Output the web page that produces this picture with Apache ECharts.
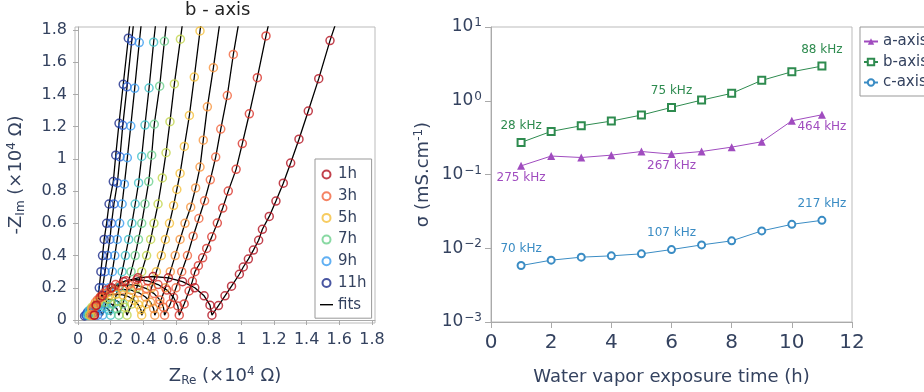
<!DOCTYPE html>
<html>
<head>
<meta charset="utf-8">
<script src="https://cdn.jsdelivr.net/npm/echarts@6/dist/echarts.min.js"></script>
<style>
html, body { margin: 0; padding: 0; background: #fff; }
#chart { width: 924px; height: 392px; }
</style>
</head>
<body>
<div id="chart"></div>
<script>
// Nyquist data, b-axis, one list of [Z_Re, -Z_Im] (x10^4 ohm) per exposure hour
var hour1 = [[0.100,0.03],[0.112,0.092],[0.148,0.15],[0.205,0.20],[0.280,0.238],[0.367,0.262],[0.460,0.27],[0.553,0.262],[0.640,0.238],[0.715,0.20],[0.772,0.15],[0.808,0.092],[0.820,0.03],
    [0.86,0.09],[0.90,0.15],[0.94,0.21],[0.988,0.284],[1.012,0.329],[1.043,0.378],[1.074,0.434],[1.106,0.495],[1.129,0.563],[1.171,0.643],[1.212,0.738],[1.257,0.849],[1.302,0.974],[1.353,1.122],[1.41,1.297],[1.474,1.498],[1.543,1.734],[1.614,1.95]];
var hour2 = [[0.100,0.03],[0.109,0.087],[0.135,0.14],[0.176,0.186],[0.23,0.22],[0.293,0.243],[0.36,0.25],[0.427,0.243],[0.49,0.22],[0.544,0.186],[0.585,0.14],[0.611,0.087],[0.62,0.03],
    [0.65,0.1],[0.68,0.18],[0.70,0.24],[0.716,0.30],[0.737,0.337],[0.763,0.386],[0.788,0.444],[0.819,0.516],[0.853,0.602],[0.886,0.695],[0.92,0.80],[0.968,0.935],[1.006,1.095],[1.049,1.28],[1.098,1.504],[1.151,1.763],[1.192,1.95]];
var hour3 = [[0.09,0.03],[0.097,0.079],[0.119,0.125],[0.154,0.164],[0.20,0.195],[0.253,0.214],[0.31,0.22],[0.367,0.214],[0.42,0.195],[0.466,0.164],[0.501,0.125],[0.523,0.079],[0.53,0.03],
    [0.565,0.1],[0.60,0.2],[0.635,0.3],[0.67,0.4],[0.705,0.52],[0.74,0.63],[0.775,0.74],[0.81,0.87],[0.843,1.011],[0.874,1.185],[0.914,1.393],[0.951,1.648],[1.002,1.95]];
var hour4 = [[0.08,0.03],[0.087,0.071],[0.106,0.11],[0.137,0.143],[0.178,0.169],[0.225,0.185],[0.275,0.19],[0.325,0.185],[0.373,0.169],[0.413,0.143],[0.444,0.11],[0.463,0.071],[0.47,0.03],
    [0.50,0.1],[0.535,0.2],[0.565,0.3],[0.595,0.4],[0.625,0.5],[0.655,0.6],[0.69,0.7],[0.72,0.82],[0.747,0.949],[0.767,1.116],[0.792,1.323],[0.829,1.566],[0.883,1.95]];
var hour5 = [[0.08,0.03],[0.085,0.064],[0.101,0.095],[0.125,0.122],[0.158,0.143],[0.195,0.156],[0.235,0.16],[0.275,0.156],[0.313,0.143],[0.345,0.122],[0.369,0.095],[0.385,0.064],[0.39,0.03],
    [0.42,0.1],[0.45,0.2],[0.48,0.3],[0.51,0.4],[0.535,0.5],[0.56,0.6],[0.585,0.71],[0.605,0.81],[0.625,0.91],[0.651,1.077],[0.682,1.27],[0.712,1.508],[0.747,1.794],[0.769,1.95]];
var hour6 = [[0.07,0.03],[0.085,0.08],[0.128,0.117],[0.185,0.13],[0.243,0.117],[0.285,0.08],[0.30,0.03],
    [0.33,0.1],[0.36,0.2],[0.39,0.3],[0.42,0.4],[0.445,0.5],[0.465,0.6],[0.49,0.72],[0.516,0.882],[0.539,1.038],[0.563,1.231],[0.59,1.465],[0.627,1.743],[0.654,1.95]];
var hour7 = [[0.07,0.03],[0.082,0.07],[0.115,0.099],[0.16,0.11],[0.205,0.099],[0.238,0.07],[0.25,0.03],
    [0.275,0.1],[0.30,0.2],[0.325,0.3],[0.35,0.4],[0.37,0.5],[0.39,0.6],[0.41,0.72],[0.433,0.859],[0.451,1.023],[0.467,1.215],[0.50,1.451],[0.529,1.73],[0.553,1.95]];
var hour8 = [[0.06,0.03],[0.069,0.06],[0.095,0.082],[0.13,0.09],[0.165,0.082],[0.191,0.06],[0.20,0.03],
    [0.22,0.1],[0.245,0.2],[0.27,0.3],[0.29,0.4],[0.31,0.5],[0.33,0.6],[0.35,0.72],[0.371,0.851],[0.39,1.015],[0.41,1.21],[0.435,1.44],[0.463,1.724],[0.487,1.95]];
var hour9 = [[0.06,0.03],[0.073,0.058],[0.105,0.07],[0.137,0.058],[0.15,0.03],
    [0.17,0.1],[0.19,0.2],[0.21,0.3],[0.225,0.4],[0.24,0.5],[0.255,0.6],[0.27,0.72],[0.284,0.843],[0.302,1.007],[0.323,1.204],[0.347,1.438],[0.375,1.722],[0.399,1.95]];
var hour10 = [[0.05,0.03],[0.06,0.051],[0.085,0.06],[0.11,0.051],[0.12,0.03],
    [0.135,0.1],[0.15,0.2],[0.165,0.3],[0.18,0.4],[0.195,0.5],[0.205,0.6],[0.22,0.72],[0.241,0.851],[0.257,1.013],[0.274,1.208],[0.30,1.447],[0.329,1.732],[0.351,1.95]];
var hour11 = [[0.04,0.025],[0.05,0.03],[0.057,0.044],[0.075,0.05],[0.093,0.044],[0.10,0.03],
    [0.115,0.1],[0.13,0.2],[0.14,0.3],[0.15,0.4],[0.16,0.5],[0.175,0.6],[0.19,0.72],[0.216,0.859],[0.231,1.023],[0.251,1.221],[0.277,1.463],[0.308,1.749],[0.329,1.95]];

var hourNames = ['1h','2h','3h','4h','5h','6h','7h','8h','9h','10h','11h'];
var hourColors = ['#b3121f','#d9332a','#f2643c','#f7953d','#f5bf3a','#c2d44a','#6ccf8c','#3fc0c8','#3a9cf0','#2b5fcf','#1a2a8a'];
var zTicks = [0,0.2,0.4,0.6,0.8,1,1.2,1.4,1.6,1.8];

// conductivity vs exposure time
var times = [1,2,3,4,5,6,7,8,9,10,11];
var aSigma = [0.131,0.178,0.170,0.183,0.205,0.189,0.205,0.235,0.278,0.535,0.645];
var bSigma = [0.272,0.384,0.458,0.530,0.640,0.812,1.02,1.26,1.89,2.47,2.95];
var cSigma = [0.00583,0.00689,0.00757,0.00789,0.0084,0.0096,0.0111,0.0126,0.0172,0.0211,0.0239];
var aNotes = ['275 kHz','','','','','267 kHz','','','','','464 kHz'];
var bNotes = ['28 kHz','','','','','75 kHz','','','','','88 kHz'];
var cNotes = ['70 kHz','','','','','107 kHz','','','','','217 kHz'];
var sigmaTicks = [0.001,0.01,0.1,1,10];

var hours = [hour1,hour2,hour3,hour4,hour5,hour6,hour7,hour8,hour9,hour10,hour11];
var txt = '#34425f';
var font = 'DejaVu Sans';
var aCol = '#a04cbf', bCol = '#2e8b4f', cCol = '#3a8cc4';

function pts(vals, notes, col, pos, dist) {
    return times.map(function (t, i) {
        return {
            value: [t, vals[i]],
            label: {show: notes[i] !== '', formatter: notes[i], position: pos, distance: dist,
                color: col, fontSize: 12, fontFamily: font}
        };
    });
}

var series = [];
// fits first, markers over them
for (var j = hours.length - 1; j >= 0; j--) {
    series.push({
        name: 'fits', type: 'line', xAxisIndex: 0, yAxisIndex: 0,
        data: hours[j], symbol: 'none', silent: true,
        lineStyle: {color: '#000', width: 1.3}, itemStyle: {color: '#000'}, z: 2
    });
}
// latest hour first so the red curves end on top
for (var i = hours.length - 1; i >= 0; i--) {
    series.push({
        name: hourNames[i], type: 'scatter', xAxisIndex: 0, yAxisIndex: 0,
        data: hours[i], symbol: 'circle', symbolSize: 8,
        itemStyle: {color: 'rgba(255,255,255,0)', borderColor: hourColors[i], borderWidth: 1.5},
        z: 3
    });
}
series.push({name: 'a-axis', type: 'line', xAxisIndex: 1, yAxisIndex: 1, data: pts(aSigma, aNotes, aCol, 'bottom', 2),
    symbol: 'triangle', symbolSize: 8, itemStyle: {color: aCol}, lineStyle: {color: aCol, width: 1}});
series.push({name: 'b-axis', type: 'line', xAxisIndex: 1, yAxisIndex: 1, data: pts(bSigma, bNotes, bCol, 'top', 6),
    symbol: 'emptyRect', symbolSize: 7, itemStyle: {color: bCol, borderWidth: 1.5}, lineStyle: {color: bCol, width: 1}});
series.push({name: 'c-axis', type: 'line', xAxisIndex: 1, yAxisIndex: 1, data: pts(cSigma, cNotes, cCol, 'top', 6),
    symbol: 'emptyCircle', symbolSize: 7, itemStyle: {color: cCol, borderWidth: 1.5}, lineStyle: {color: cCol, width: 1}});

var richName = {
    t: {fontSize: 18, color: txt, fontFamily: font},
    sub: {fontSize: 12, color: txt, fontFamily: font, padding: [9, 0, 0, 0]},
    sup: {fontSize: 12, color: txt, fontFamily: font, padding: [0, 0, 9, 0]}
};
var supMap = {'-3': '−3', '-2': '−2', '-1': '−1', '0': '0', '1': '1'};

var option = {
    animation: false,
    title: {text: 'b - axis', left: 185, top: 1, padding: 0,
        textStyle: {fontSize: 18, fontWeight: 'normal', color: '#222', fontFamily: font}},
    grid: [
        {left: 75, right: 549, top: 27, bottom: 67, show: true, borderColor: '#bbb', borderWidth: 1},
        {left: 491, right: 72, top: 27, bottom: 70, show: true, borderColor: '#bbb', borderWidth: 1}
    ],
    legend: [
        {data: ['1h','3h','5h','7h','9h','11h',
                {name: 'fits', icon: 'path://M0,0H14V1.5H0Z'}],
            orient: 'vertical', left: 315, top: 159,
            padding: [8, 5, 6, 5], itemGap: 6.7, itemWidth: 13, itemHeight: 8,
            borderColor: '#999', borderWidth: 1,
            textStyle: {color: txt, fontSize: 15, fontFamily: font}},
        {data: ['a-axis','b-axis','c-axis'], orient: 'vertical', left: 860, top: 27,
            padding: [7, 4, 6, 3], itemGap: 5.5, itemWidth: 14, itemHeight: 8,
            borderColor: '#999', borderWidth: 1,
            textStyle: {color: txt, fontSize: 15, fontFamily: font}}
    ],
    xAxis: [
        {type: 'value', gridIndex: 0, min: -0.0185, max: 1.8185,
            name: '{t|Z}{sub|Re}{t| (×10}{sup|4}{t| Ω)}', nameLocation: 'middle', nameGap: 43,
            nameTextStyle: {rich: richName},
            axisLine: {show: true, lineStyle: {color: '#aaa'}},
            axisTick: {show: true, customValues: zTicks, length: 5, lineStyle: {color: '#aaa'}},
            axisLabel: {customValues: zTicks, color: txt, fontSize: 16, fontFamily: font, margin: 9},
            splitLine: {show: false}},
        {type: 'value', gridIndex: 1, min: 0, max: 12, interval: 2,
            name: 'Water vapor exposure time (h)', nameLocation: 'middle', nameGap: 46,
            nameTextStyle: {color: txt, fontSize: 18, fontFamily: font},
            axisLine: {show: true, lineStyle: {color: '#aaa'}},
            axisTick: {show: true, length: 6, lineStyle: {color: '#aaa'}},
            axisLabel: {color: txt, fontSize: 20, fontFamily: font, margin: 11},
            splitLine: {show: false}}
    ],
    yAxis: [
        {type: 'value', gridIndex: 0, min: -0.0185, max: 1.8185,
            name: '{t|-Z}{sub|Im}{t| (×10}{sup|4}{t| Ω)}', nameLocation: 'middle', nameGap: 48,
            nameTextStyle: {rich: richName},
            axisLine: {show: true, lineStyle: {color: '#aaa'}},
            axisTick: {show: true, customValues: zTicks, length: 5, lineStyle: {color: '#aaa'}},
            axisLabel: {customValues: zTicks, color: txt, fontSize: 16, fontFamily: font, margin: 8},
            splitLine: {show: false}},
        {type: 'log', gridIndex: 1, logBase: 10, min: 0.001, max: 10,
            name: '{t|σ (mS.cm}{sup|-1}{t|)}', nameLocation: 'middle', nameGap: 57,
            nameTextStyle: {rich: richName},
            axisLine: {show: true, lineStyle: {color: '#aaa'}},
            axisTick: {show: true, customValues: sigmaTicks, length: 6, lineStyle: {color: '#aaa'}},
            axisLabel: {customValues: sigmaTicks, margin: 9,
                formatter: function (v) {
                    var e = Math.round(Math.log(v) / Math.LN10);
                    return '{b|10}{e|' + supMap[String(e)] + '}';
                },
                rich: {
                    b: {fontSize: 17, color: txt, fontFamily: font},
                    e: {fontSize: 12, color: txt, fontFamily: font, padding: [0, 0, 8, 1]}
                }},
            splitLine: {show: false}}
    ],
    series: series
};

var chart = echarts.init(document.getElementById('chart'));
chart.setOption(option);
</script>
</body>
</html>
